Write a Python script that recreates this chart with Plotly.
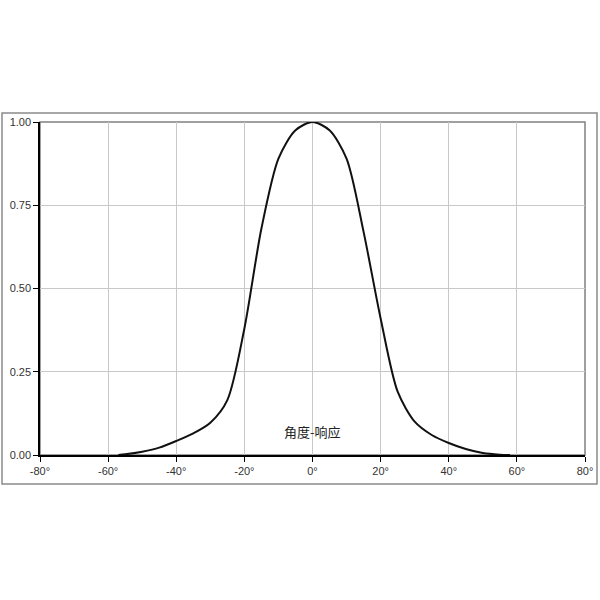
import plotly.graph_objects as go

angles = [-57, -55, -50, -45, -40, -35, -30, -25, -20, -15, -10, -5, 0,
          5, 10, 15, 20, 25, 30, 35, 40, 45, 50, 55, 58]
response = [0.0, 0.002, 0.01, 0.022, 0.042, 0.065, 0.097, 0.165, 0.38, 0.68, 0.89, 0.975, 1.0,
            0.975, 0.89, 0.67, 0.41, 0.19, 0.10, 0.06, 0.036, 0.018, 0.006, 0.001, 0.0]
x_ticks = [-80, -60, -40, -20, 0, 20, 40, 60, 80]
x_tick_labels = [f"{v}°" for v in x_ticks]
y_ticks = [0, 0.25, 0.5, 0.75, 1.0]
y_tick_labels = ["0.00", "0.25", "0.50", "0.75", "1.00"]
title_text = "角度-响应"

W, H = 600, 600
L, T, PW, PH = 40, 122, 545, 333

fig = go.Figure()
fig.add_trace(go.Scatter(
    x=angles, y=response, mode="lines",
    line=dict(color="#111111", width=2, shape="spline", smoothing=0.8),
    showlegend=False, hoverinfo="skip",
))

tick_font = dict(family="Liberation Sans, Arial, sans-serif", size=11, color="#333333")

def px(x):
    return (x - L) / PW

def py(y):
    return (T + PH - y) / PH

fig.update_layout(
    width=W, height=H,
    margin=dict(l=L, r=W - L - PW, t=T, b=H - T - PH, autoexpand=False),
    paper_bgcolor="white", plot_bgcolor="white",
    xaxis=dict(range=[-80, 80], tickvals=x_ticks, ticktext=x_tick_labels,
               showgrid=True, gridcolor="#c8c8c8", gridwidth=1,
               zeroline=False, showline=True, linecolor="#000000", linewidth=1.5,
               ticks="outside", ticklen=5, tickcolor="#000000", tickfont=tick_font),
    yaxis=dict(range=[0, 1], tickvals=y_ticks, ticktext=y_tick_labels,
               showgrid=True, gridcolor="#c8c8c8", gridwidth=1,
               zeroline=False, showline=True, linecolor="#000000", linewidth=1.5,
               ticks="outside", ticklen=5, tickcolor="#000000", tickfont=tick_font),
    shapes=[
        dict(type="rect", xref="paper", yref="paper", x0=0, x1=1, y0=0, y1=1,
             line=dict(color="#808080", width=1.5), layer="below"),
        dict(type="rect", xref="paper", yref="paper",
             x0=px(2), x1=px(597), y0=py(484), y1=py(113),
             line=dict(color="#8a8a8a", width=1.5), layer="below"),
    ],
    annotations=[dict(x=0, y=0.07, xref="x", yref="y", text=title_text, showarrow=False,
                      font=dict(family="Noto Sans CJK SC", size=13, color="#222222"))],
)

fig.write_html("out.html",
               config={"displayModeBar": False},
               post_script="document.body.style.margin='0';document.body.style.overflow='hidden';")
